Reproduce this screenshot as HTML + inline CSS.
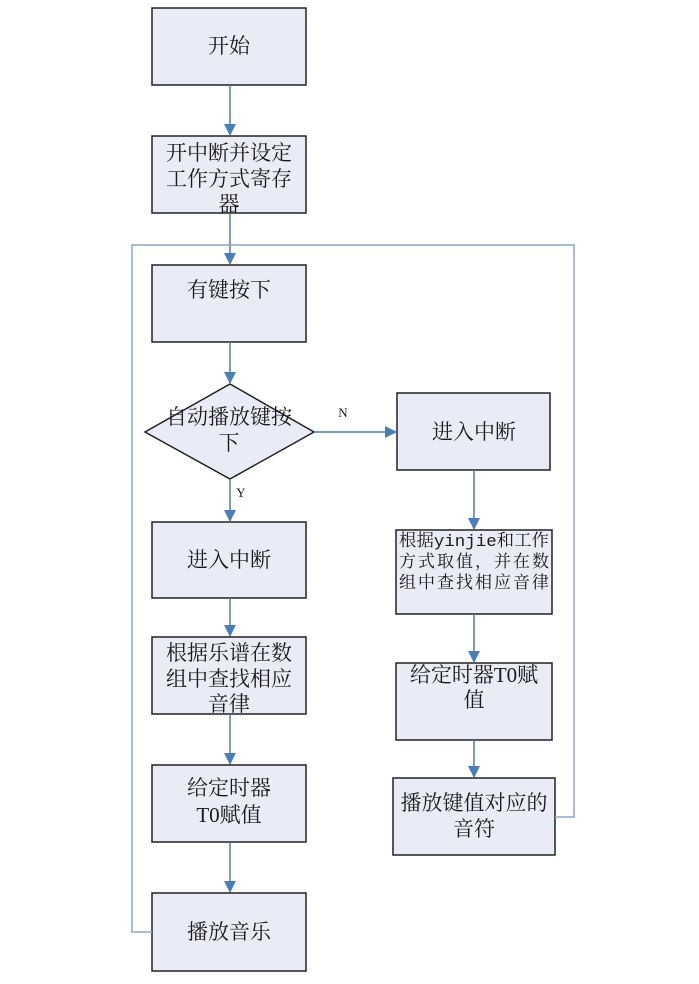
<!DOCTYPE html>
<html><head><meta charset="utf-8"><style>
html,body{margin:0;padding:0;background:#fff;}
svg{display:block}
text{font-family:"Liberation Serif","Noto Serif CJK SC",serif;fill:#1a1a1a;text-anchor:middle;}
</style></head><body>
<svg width="699" height="984" viewBox="0 0 699 984" xmlns="http://www.w3.org/2000/svg">
<defs>
<marker id="a" markerWidth="12" markerHeight="12" refX="11" refY="6" orient="auto" markerUnits="userSpaceOnUse">
<path d="M0,0 L12,6 L0,12 z" fill="#4a7ebb"/></marker>
</defs>
<g fill="#e9ebf6" stroke="#222" stroke-width="1.5">
<rect x="152" y="8" width="154" height="77"/>
<rect x="152" y="136" width="154" height="77"/>
<rect x="152" y="265" width="154" height="77"/>
<polygon points="230,384 314,432 230,479 145,432"/>
<rect x="152" y="522" width="154" height="76"/>
<rect x="152" y="637" width="154" height="77"/>
<rect x="152" y="765" width="154" height="77"/>
<rect x="152" y="893" width="154" height="78"/>
<rect x="397" y="393" width="153" height="77"/>
<rect x="396" y="530" width="156" height="84"/>
<rect x="396" y="663" width="156" height="77"/>
<rect x="393" y="778" width="162" height="77"/>
</g>
<g stroke="#4a7ebb" stroke-width="1.5" fill="none">
<line x1="230" y1="85" x2="230" y2="135" marker-end="url(#a)"/>
<line x1="230" y1="213" x2="230" y2="264" marker-end="url(#a)"/>
<line x1="230" y1="342" x2="230" y2="383" marker-end="url(#a)"/>
<line x1="230" y1="479" x2="230" y2="521" marker-end="url(#a)"/>
<line x1="230" y1="598" x2="230" y2="636" marker-end="url(#a)"/>
<line x1="230" y1="714" x2="230" y2="764" marker-end="url(#a)"/>
<line x1="230" y1="842" x2="230" y2="892" marker-end="url(#a)"/>
<line x1="314" y1="432" x2="396" y2="432" marker-end="url(#a)"/>
<line x1="474" y1="470" x2="474" y2="529" marker-end="url(#a)"/>
<line x1="474" y1="614" x2="474" y2="662" marker-end="url(#a)"/>
<line x1="474" y1="740" x2="474" y2="777" marker-end="url(#a)"/>
<polyline points="152,932 132,932 132,245 574,245 574,817 555,817" stroke="#8aa8cc"/>
</g>
<g font-size="21">
<text x="229" y="53">开始</text>
<text x="229" y="160">开中断并设定</text>
<text x="229" y="186">工作方式寄存</text>
<text x="229" y="211">器</text>
<text x="229" y="297">有键按下</text>
<text x="229" y="424">自动播放键按</text>
<text x="229" y="450">下</text>
<text x="229" y="567">进入中断</text>
<text x="229" y="660">根据乐谱在数</text>
<text x="229" y="686">组中查找相应</text>
<text x="229" y="711">音律</text>
<text x="229" y="795">给定时器</text>
<text x="229" y="822">T0赋值</text>
<text x="229" y="939">播放音乐</text>
<text x="474" y="439">进入中断</text>
<text x="474" y="682">给定时器T0赋</text>
<text x="474" y="707">值</text>
<text x="474" y="810">播放键值对应的</text>
<text x="474" y="836">音符</text>
</g>
<g font-size="17">
<text x="474" y="546" textLength="150" lengthAdjust="spacingAndGlyphs">根据<tspan font-family="Liberation Mono, monospace">yinjie</tspan>和工作</text>
<text x="474" y="567" textLength="150">方式取值，并在数</text>
<text x="474" y="588" textLength="150">组中查找相应音律</text>
</g>
<g font-size="13">
<text x="343" y="417">N</text>
<text x="241" y="497">Y</text>
</g>
</svg>
</body></html>
